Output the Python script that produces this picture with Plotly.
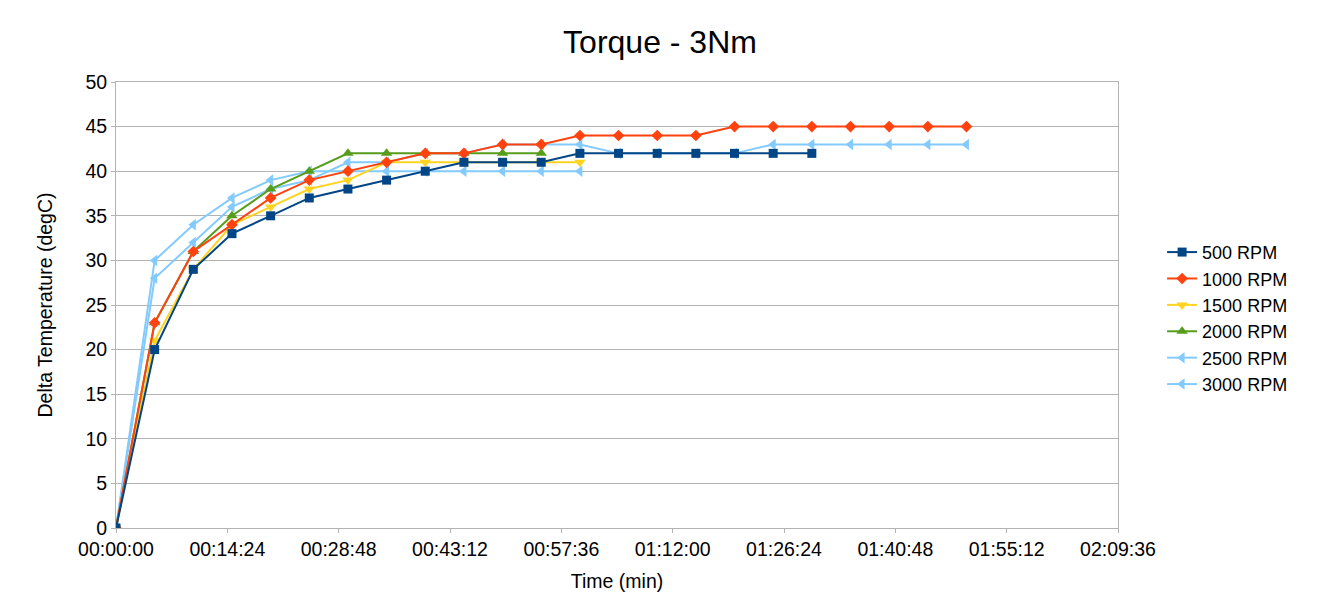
import pandas as pd
import plotly.graph_objects as go

# Messzeitpunkte in Minuten (alle 5 min)
t_min = list(range(0, 115, 5))

rpm_500 = [0, 20, 29, 33, 35, 37, 38, 39, 40, 41, 41, 41, 42, 42, 42, 42, 42, 42, 42]
rpm_1000 = [0, 23, 31, 34, 37, 39, 40, 41, 42, 42, 43, 43, 44, 44, 44, 44, 45, 45, 45, 45, 45, 45, 45]
rpm_1500 = [0, 21, 29, 34, 36, 38, 39, 41, 41, 41, 41, 41, 41]
rpm_2000 = [0, 23, 31, 35, 38, 40, 42, 42, 42, 42, 42, 42]
rpm_2500 = [0, 30, 34, 37, 39, 40, 40, 40, 40, 40, 40, 40, 40]
rpm_3000 = [0, 28, 32, 36, 38, 39, 41, 41, 42, 42, 43, 43, 43, 42, 42, 42, 42, 43, 43, 43, 43, 43, 43]

names = ["500 RPM", "1000 RPM", "1500 RPM", "2000 RPM", "2500 RPM", "3000 RPM"]
werte = [rpm_500, rpm_1000, rpm_1500, rpm_2000, rpm_2500, rpm_3000]
farben = ["#004586", "#ff420e", "#ffd320", "#579d1c", "#83caff", "#83caff"]
symbole = ["square", "diamond", "triangle-down", "triangle-up", "triangle-left", "triangle-left"]
groessen = [9, 9, 10, 10, 10, 10]

base = pd.Timestamp("1970-01-01")
zeit = [base + pd.Timedelta(minutes=m) for m in t_min]

fig = go.Figure()
# erste Reihe liegt oben -> rueckwaerts zeichnen
for i in reversed(range(len(names))):
    y = werte[i]
    fig.add_trace(go.Scatter(x=zeit[:len(y)], y=y, name=names[i], mode="lines+markers",
                             line=dict(color=farben[i], width=2),
                             marker=dict(symbol=symbole[i], size=groessen[i], color=farben[i]),
                             legendrank=i + 1))

# Seite hat 8px Rand -> Figur etwas kleiner
fig.update_layout(
    width=1304, height=594,
    font_family="Liberation Sans", font_size=18, font_color="#000000",
    paper_bgcolor="white", plot_bgcolor="white",
    margin=dict(l=108, r=194, t=74, b=74, autoexpand=False),
    title=dict(text="Torque - 3Nm", x=0.5, xanchor="center", y=1 - 34 / 594, yanchor="middle",
               font=dict(size=32)),
    legend=dict(x=1.044, y=0.47, xanchor="left", yanchor="middle", font=dict(size=18),
                tracegroupgap=0, itemwidth=30),
)

fig.update_xaxes(
    type="date", range=[base, base + pd.Timedelta(seconds=7776)],
    tick0=base, dtick=864000, tickformat="%H:%M:%S", tickfont=dict(size=19.5),
    showgrid=False, showline=True, linecolor="#b3b3b3", linewidth=1, mirror=True,
    ticks="outside", ticklen=4, tickcolor="#b3b3b3", automargin=False,
    title=dict(text="Time (min)", standoff=14, font=dict(size=19.5)), zeroline=False,
)
fig.update_yaxes(
    range=[0, 50], dtick=5, tickfont=dict(size=19.5),
    showgrid=True, gridcolor="#b3b3b3", gridwidth=1,
    showline=True, linecolor="#b3b3b3", linewidth=1, mirror=True,
    ticks="outside", ticklen=4, tickcolor="#b3b3b3", automargin=False,
    title=dict(text="Delta Temperature (degC)", standoff=27, font=dict(size=19.5)), zeroline=False,
)

fig.write_html("out.html")
